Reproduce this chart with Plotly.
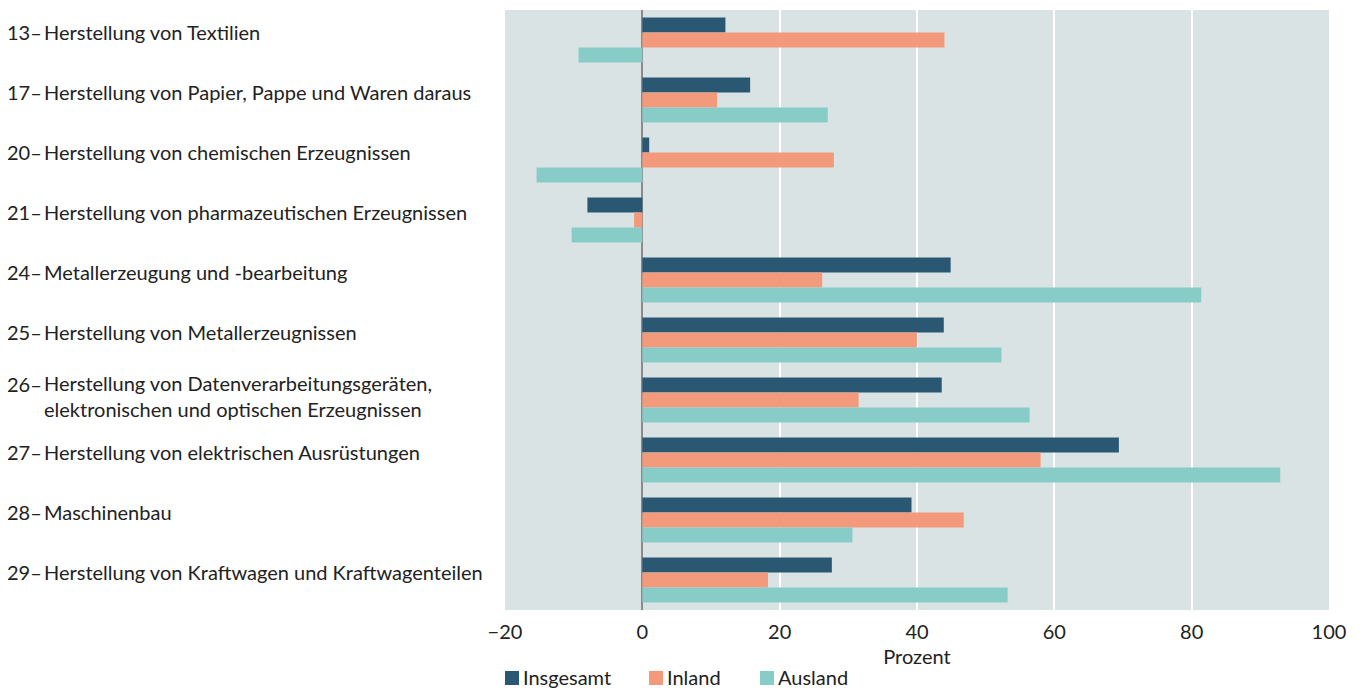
import plotly.graph_objects as go

codes = ["13", "17", "20", "21", "24", "25", "26", "27", "28", "29"]
labels = [
    "Herstellung von Textilien",
    "Herstellung von Papier, Pappe und Waren daraus",
    "Herstellung von chemischen Erzeugnissen",
    "Herstellung von pharmazeutischen Erzeugnissen",
    "Metallerzeugung und -bearbeitung",
    "Herstellung von Metallerzeugnissen",
    "Herstellung von Datenverarbeitungsgeräten,<br>elektronischen und optischen Erzeugnissen",
    "Herstellung von elektrischen Ausrüstungen",
    "Maschinenbau",
    "Herstellung von Kraftwagen und Kraftwagenteilen",
]
series = ["Insgesamt", "Inland", "Ausland"]
colors = ["#2a5872", "#f39a7d", "#88ccc7"]
insgesamt = [12.1, 15.7, 1.0, -8.0, 44.9, 43.9, 43.6, 69.4, 39.2, 27.6]
inland = [44.0, 10.9, 27.9, -1.2, 26.2, 40.0, 31.5, 58.0, 46.8, 18.3]
ausland = [-9.3, 27.0, -15.4, -10.3, 81.4, 52.3, 56.4, 92.9, 30.6, 53.2]
x_ticks = [-20, 0, 20, 40, 60, 80, 100]
x_ticktext = ["\u221220", "0", "20", "40", "60", "80", "100"]

FONT = "Lato"
TXT = "#222222"
FS = 20

# page body has an 8px margin -> figure is offset by 8px
W, H = 1351, 681
ML, MR, MT, MB = 497, 30, 2, 79
PW = W - ML - MR   # 824
PH = H - MT - MB   # 600

fig = go.Figure()
for name, vals, col in zip(series, [insgesamt, inland, ausland], colors):
    fig.add_trace(go.Bar(y=codes, x=vals, name=name, orientation="h",
                         marker=dict(color=col, line=dict(width=0)),
                         hoverinfo="x+name", showlegend=False))

annotations = []
shapes = []
for i, (c, lab) in enumerate(zip(codes, labels)):
    nlines = lab.count("<br>") + 1
    ys_text = 8 if nlines == 1 else 4
    ys_num = ys_text + (nlines - 1) * 12.5
    annotations.append(dict(x=0, xref="paper", y=i, yref="y", text=c + "\u2013",
                            showarrow=False, xanchor="right", xshift=-462, yshift=ys_num,
                            borderpad=0,
                            font=dict(family=FONT, size=FS, color=TXT)))
    annotations.append(dict(x=0, xref="paper", y=i, yref="y", text=lab,
                            showarrow=False, xanchor="left", align="left", xshift=-462, yshift=ys_text,
                            borderpad=0,
                            font=dict(family=FONT, size=FS, color=TXT)))

# custom legend (page pixel positions of the squares)
leg_sq_x = [505, 649, 760]
for name, col, sx in zip(series, colors, leg_sq_x):
    x0 = (sx - 505) / PW
    shapes.append(dict(type="rect", xref="paper", yref="paper",
                       x0=x0, x1=x0 + 14 / PW, y0=(610 - 671) / PH, y1=(610 - 685) / PH,
                       fillcolor=col, line=dict(width=0)))
    annotations.append(dict(x=(sx + 17 - 505) / PW, xref="paper", y=(610 - 677) / PH, yref="paper",
                            text=name, showarrow=False, xanchor="left", yanchor="middle",
                            borderpad=0,
                            font=dict(family=FONT, size=FS, color=TXT)))

fig.update_layout(
    width=W, height=H,
    margin=dict(l=ML, r=MR, t=MT, b=MB, autoexpand=False),
    paper_bgcolor="white", plot_bgcolor="#dae3e4",
    barmode="group", bargap=0.25, bargroupgap=0,
    font=dict(family=FONT, size=FS, color=TXT),
    showlegend=False,
    annotations=annotations,
    shapes=shapes,
    xaxis=dict(range=[-20, 100], tickvals=x_ticks, ticktext=x_ticktext,
               showgrid=True, gridcolor="white", gridwidth=2,
               zeroline=True, zerolinecolor="#8a8a8a", zerolinewidth=2,
               showline=False, ticks="", ticklabelstandoff=8,
               tickfont=dict(family=FONT, size=FS, color=TXT),
               title=dict(text="Prozent", font=dict(family=FONT, size=FS, color=TXT), standoff=7)),
    yaxis=dict(type="category", categoryorder="array", categoryarray=codes, range=[9.5, -0.5],
               showticklabels=False, showgrid=False, zeroline=False, ticks=""),
)

fig.write_html("out.html")
